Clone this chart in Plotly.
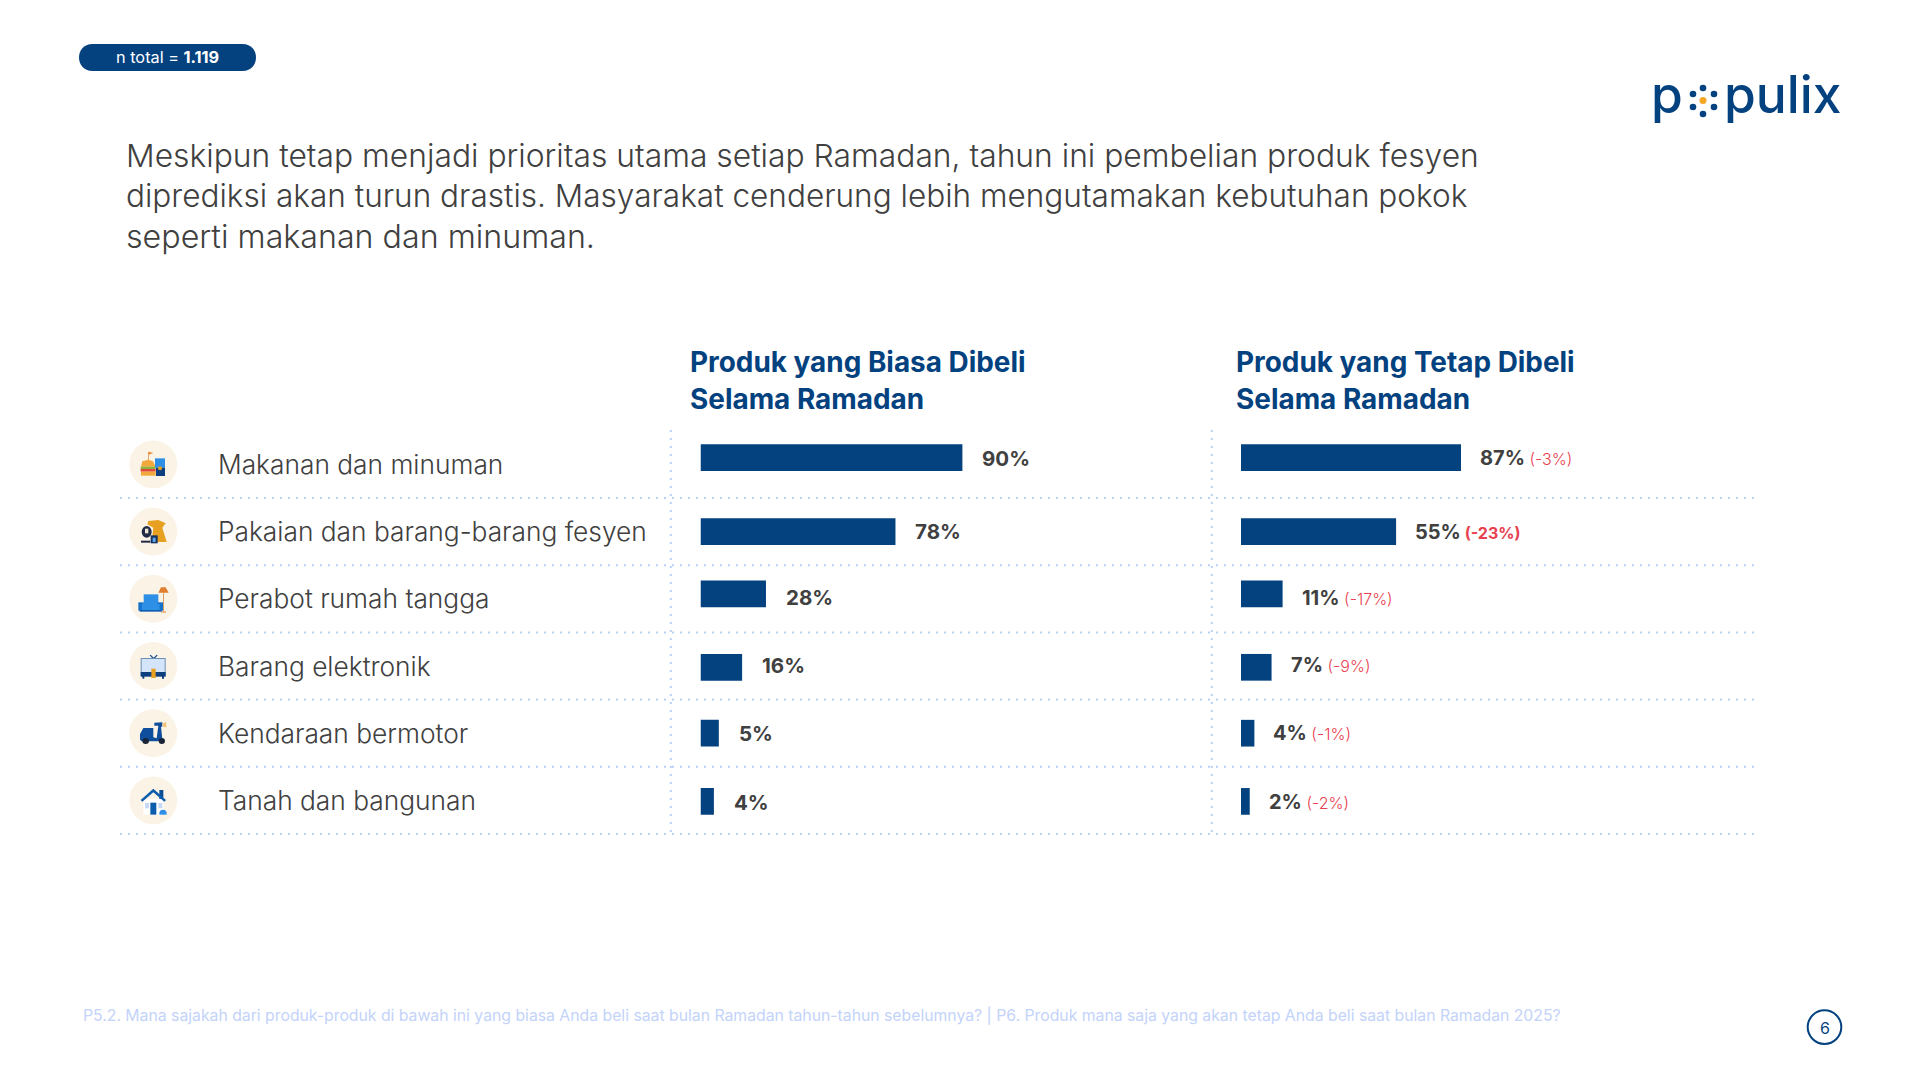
import plotly.graph_objects as go

categories = ["Makanan dan minuman", "Pakaian dan barang-barang fesyen", "Perabot rumah tangga",
              "Barang elektronik", "Kendaraan bermotor", "Tanah dan bangunan"]
biasa_labels = [90, 78, 28, 16, 5, 4]
tetap_labels = [87, 55, 11, 7, 4, 2]
tetap_delta = [-3, -23, -17, -9, -1, -2]
# bar lengths as drawn in the slide, they are not proportional to the printed labels
biasa_drawn = [90, 67, 22.5, 14.3, 6.3, 4.6]
tetap_drawn = [75.6, 53.3, 14.3, 10.5, 4.6, 3]

headline = ["Meskipun tetap menjadi prioritas utama setiap Ramadan, tahun ini pembelian produk fesyen",
            "diprediksi akan turun drastis. Masyarakat cenderung lebih mengutamakan kebutuhan pokok",
            "seperti makanan dan minuman."]
col_titles = [["Produk yang Biasa Dibeli", "Selama Ramadan"], ["Produk yang Tetap Dibeli", "Selama Ramadan"]]
footnote = ("P5.2. Mana sajakah dari produk-produk di bawah ini yang biasa Anda beli saat bulan Ramadan "
            "tahun-tahun sebelumnya? | P6. Produk mana saja yang akan tetap Anda beli saat bulan Ramadan 2025?")

W, H = 1920, 1080
NAVY = "#03427F"
DARK = "#404040"
RED = "#E8414F"
DOT = "#B9D0F5"
FONT = "Inter"

ROW_TOP, ROW_H = 430.8, 67.2
BAR_H = 26.7
# the bars and their labels sit slightly off the row centres in the slide (px)
bar_nudge = [-6.7, 0, -5, 1.3, 0, 1]
label_nudge = [-6.4, 0, -1.3, -0.8, 0.3, 1.6]
bar_width = BAR_H / ROW_H
bar_offset = [-bar_width / 2 + n / ROW_H for n in bar_nudge]

shapes = []
annotations = []


def add_text(x, y, text, size, color=DARK, weight=400, anchor="left", xref="x3", yref="y3", xshift=0, yshift=0):
    annotations.append(dict(x=x, y=y, xref=xref, yref=yref, text=text, showarrow=False, xanchor=anchor,
                            yanchor="middle", xshift=xshift, yshift=yshift, align="left",
                            font=dict(family=FONT, size=size, color=color, weight=weight)))


def add_shape(**kw):
    kw.setdefault("line", dict(width=0))
    shapes.append(dict(xref="x3", yref="y3", layer="above", **kw))


def dotted(x0, y0, x1, y1):
    add_shape(type="line", x0=x0, y0=y0, x1=x1, y1=y1, line=dict(color=DOT, width=2, dash="2px,6px"))


def poly(points, color):
    path = "M" + " L".join(f"{x},{y}" for x, y in points) + " Z"
    add_shape(type="path", path=path, fillcolor=color)


def icon_parts(ox, oy, parts):
    for kind, pts, color in parts:
        pts = [(ox + a / 3, oy + b / 3) for a, b in pts]
        if kind == "rect":
            (x0, y0), (x1, y1) = pts
            add_shape(type="rect", x0=x0, y0=y0, x1=x1, y1=y1, fillcolor=color)
        elif kind == "oval":
            (x0, y0), (x1, y1) = pts
            add_shape(type="circle", x0=x0, y0=y0, x1=x1, y1=y1, fillcolor=color)
        else:
            poly(pts, color)


# pill top left
px0, px1, py0, py1 = 79, 256, 44, 71
r = (py1 - py0) / 2
add_shape(type="path", fillcolor=NAVY,
          path=f"M{px0 + r},{py0} L{px1 - r},{py0} C{px1 + r / 3},{py0} {px1 + r / 3},{py1} {px1 - r},{py1} "
               f"L{px0 + r},{py1} C{px0 - r / 3},{py1} {px0 - r / 3},{py0} {px0 + r},{py0} Z")
add_text(167, 57, "n total = <b>1.119</b>", 16.3, "white", anchor="center")

# logo
add_text(1649, 94, "p", 51.5, NAVY, 500)
add_text(1722, 94, "pulix", 51.5, NAVY, 500)
for cx, cy in [(1703, 88), (1693, 94), (1714, 94), (1693, 107), (1714, 107), (1703, 114)]:
    add_shape(type="circle", x0=cx - 3.3, y0=cy - 3.3, x1=cx + 3.3, y1=cy + 3.3, fillcolor=NAVY)
add_shape(type="circle", x0=1699.5, y0=97, x1=1706.5, y1=104, fillcolor="#F5A623")

for line, y, size in zip(headline, [155.5, 195.5, 236.5], [31.8, 31.55, 32.2]):
    add_text(124, y, line, size, DARK, 300)

for x, lines in zip([687.5, 1233.5], col_titles):
    for line, y in zip(lines, [361.5, 398.5]):
        add_text(x, y, line, 27.9, NAVY, 700)

# row separators and column rules
for i in range(1, 7):
    y = ROW_TOP + i * ROW_H
    dotted(120, y, 1755, y)
for x in [670.8, 1211.8]:
    dotted(x, 430, x, 834)

# icon backdrops
for i in range(6):
    cy = ROW_TOP + (i + 0.5) * ROW_H
    add_shape(type="circle", x0=129.3, y0=cy - 24, x1=177.3, y1=cy + 24, fillcolor="#FBF4E6")

# burger and cup
icon_parts(125, 436, [
    ("rect", [(69, 47), (71, 72)], "#E07F2F"),
    ("poly", [(71, 47), (85, 51), (71, 56)], "#F08A2C"),
    ("poly", [(48, 92), (52, 76), (70, 71), (84, 76), (92, 92)], "#F2A93B"),
    ("rect", [(47, 92), (92, 99)], "#8DB33F"),
    ("rect", [(47, 99), (92, 107)], "#E0483C"),
    ("rect", [(48, 107), (92, 119)], "#F2A93B"),
    ("rect", [(90, 67), (120, 95)], "#2D8FE5"),
    ("rect", [(93, 95), (120, 120)], "#0D3F7E"),
    ("oval", [(99, 91), (111, 103)], "#E8A020"),
])
# dress and hat
icon_parts(125, 436, [
    ("poly", [(70, 255), (100, 252), (122, 262), (112, 275), (125, 318), (80, 318), (85, 275), (67, 265)], "#E8A020"),
    ("oval", [(50, 270), (80, 305)], "#222B45"),
    ("rect", [(60, 278), (70, 292)], "#F0E6D5"),
    ("rect", [(48, 314), (76, 320)], "#222B45"),
    ("rect", [(77, 298), (98, 322)], "#14315F"),
    ("rect", [(83, 305), (92, 318)], "#5AA6EE"),
])
# sofa and lamp
icon_parts(125, 570, [
    ("rect", [(114, 68), (117, 125)], "#D9A06B"),
    ("rect", [(108, 124), (123, 128)], "#E3A56F"),
    ("poly", [(100, 68), (108, 52), (122, 52), (131, 68)], "#E07F2F"),
    ("rect", [(56, 73), (100, 102)], "#2D8FE5"),
    ("rect", [(40, 97), (56, 122)], "#1671C9"),
    ("rect", [(98, 97), (114, 122)], "#1671C9"),
    ("rect", [(50, 102), (104, 122)], "#2D8FE5"),
    ("rect", [(44, 120), (110, 125)], "#0F5CB0"),
])
# television
icon_parts(125, 570, [
    ("poly", [(74, 256), (77, 254), (86, 263), (95, 254), (98, 256), (88, 267), (84, 267)], "#0D4C92"),
    ("rect", [(47, 264), (122, 318)], "#6E8FB5"),
    ("rect", [(50, 267), (119, 306)], "#D3E4FB"),
    ("rect", [(47, 306), (122, 320)], "#0D3F7E"),
    ("rect", [(52, 318), (58, 326)], "#0D3F7E"),
    ("rect", [(111, 318), (117, 326)], "#0D3F7E"),
    ("rect", [(79, 296), (92, 324)], "#E8A020"),
])
# scooter
icon_parts(125, 704, [
    ("poly", [(45, 90), (55, 72), (85, 72), (85, 100), (95, 103), (100, 65), (88, 65), (88, 56), (112, 55),
              (112, 68), (108, 68), (112, 105), (100, 112), (50, 112), (45, 107)], "#0F4E9C"),
    ("oval", [(52, 102), (72, 120)], "#1A2438"),
    ("oval", [(101, 102), (120, 120)], "#1A2438"),
    ("poly", [(112, 60), (124, 53), (124, 71), (112, 66)], "#F2C27A"),
])
# house
icon_parts(125, 704, [
    ("rect", [(55, 285), (115, 332)], "#FFFFFF"),
    ("rect", [(103, 258), (115, 285)], "#0B4E96"),
    ("poly", [(47, 288), (85, 254), (123, 288), (118, 293), (85, 265), (52, 293)], "#0B5CAD"),
    ("rect", [(60, 297), (72, 313)], "#C9D8F5"),
    ("rect", [(100, 297), (112, 313)], "#C9D8F5"),
    ("rect", [(76, 296), (94, 332)], "#0B5CAD"),
    ("oval", [(103, 317), (125, 340)], "#2D8FE5"),
    ("rect", [(100, 332), (128, 342)], "#FBF4E6"),
])

# row labels, aligned on the category axis
for cat in categories:
    add_text(215.5, cat, cat, 26.3, DARK, 300, xref="x3", yref="y")

# bar labels
for cat, val, length, nudge in zip(categories, biasa_labels, biasa_drawn, label_nudge):
    add_text(length, cat, f"{val}%", 20.5, DARK, 700, xref="x", yref="y", xshift=18, yshift=-nudge)

for cat, val, delta, length, nudge in zip(categories, tetap_labels, tetap_delta, tetap_drawn, label_nudge):
    strong = delta == min(tetap_delta)
    tag = (f'<span style="font-size:16px;color:{RED};font-weight:{700 if strong else 300}"> ({delta}%)</span>')
    add_text(length, cat, f"{val}%{tag}", 20, DARK, 700, xref="x2", yref="y", xshift=17, yshift=-nudge)

add_text(81, 1015, footnote, 15.77, "#C3D3FA", 400)

add_shape(type="circle", x0=1807.7, y0=1010.3, x1=1841.3, y1=1043.9, line=dict(color=NAVY, width=2))
add_text(1824.5, 1027.5, "6", 16, NAVY, 400, anchor="center")

fig = go.Figure()
fig.add_trace(go.Bar(y=categories, x=biasa_drawn, orientation="h", xaxis="x", yaxis="y",
                     width=bar_width, offset=bar_offset, marker=dict(color=NAVY, line=dict(width=0)),
                     showlegend=False, hoverinfo="skip"))
fig.add_trace(go.Bar(y=categories, x=tetap_drawn, orientation="h", xaxis="x2", yaxis="y",
                     width=bar_width, offset=bar_offset, marker=dict(color=NAVY, line=dict(width=0)),
                     showlegend=False, hoverinfo="skip"))
# pixel canvas for the slide furniture
fig.add_trace(go.Scatter(x=[], y=[], xaxis="x3", yaxis="y3", showlegend=False, hoverinfo="skip"))

hidden = dict(visible=False, fixedrange=True)
fig.update_layout(
    width=W, height=H, margin=dict(l=0, r=0, t=0, b=0, pad=0),
    paper_bgcolor="white", plot_bgcolor="rgba(0,0,0,0)",
    font=dict(family=FONT, color=DARK),
    xaxis=dict(domain=[700.5 / W, 991.5 / W], range=[0, 100], anchor="y", **hidden),
    xaxis2=dict(domain=[1241 / W, 1532 / W], range=[0, 100], anchor="y", **hidden),
    xaxis3=dict(domain=[0, 1], range=[0, W], anchor="y3", **hidden),
    yaxis=dict(domain=[1 - (ROW_TOP + 6 * ROW_H) / H, 1 - ROW_TOP / H], type="category",
               categoryorder="array", categoryarray=categories, range=[5.5, -0.5], anchor="x", **hidden),
    yaxis3=dict(domain=[0, 1], range=[H, 0], anchor="x3", **hidden),
    shapes=shapes, annotations=annotations,
)

fig.write_html("out.html", config={"displayModeBar": False},
               post_script="document.body.style.margin='0';document.body.style.overflow='hidden';")
